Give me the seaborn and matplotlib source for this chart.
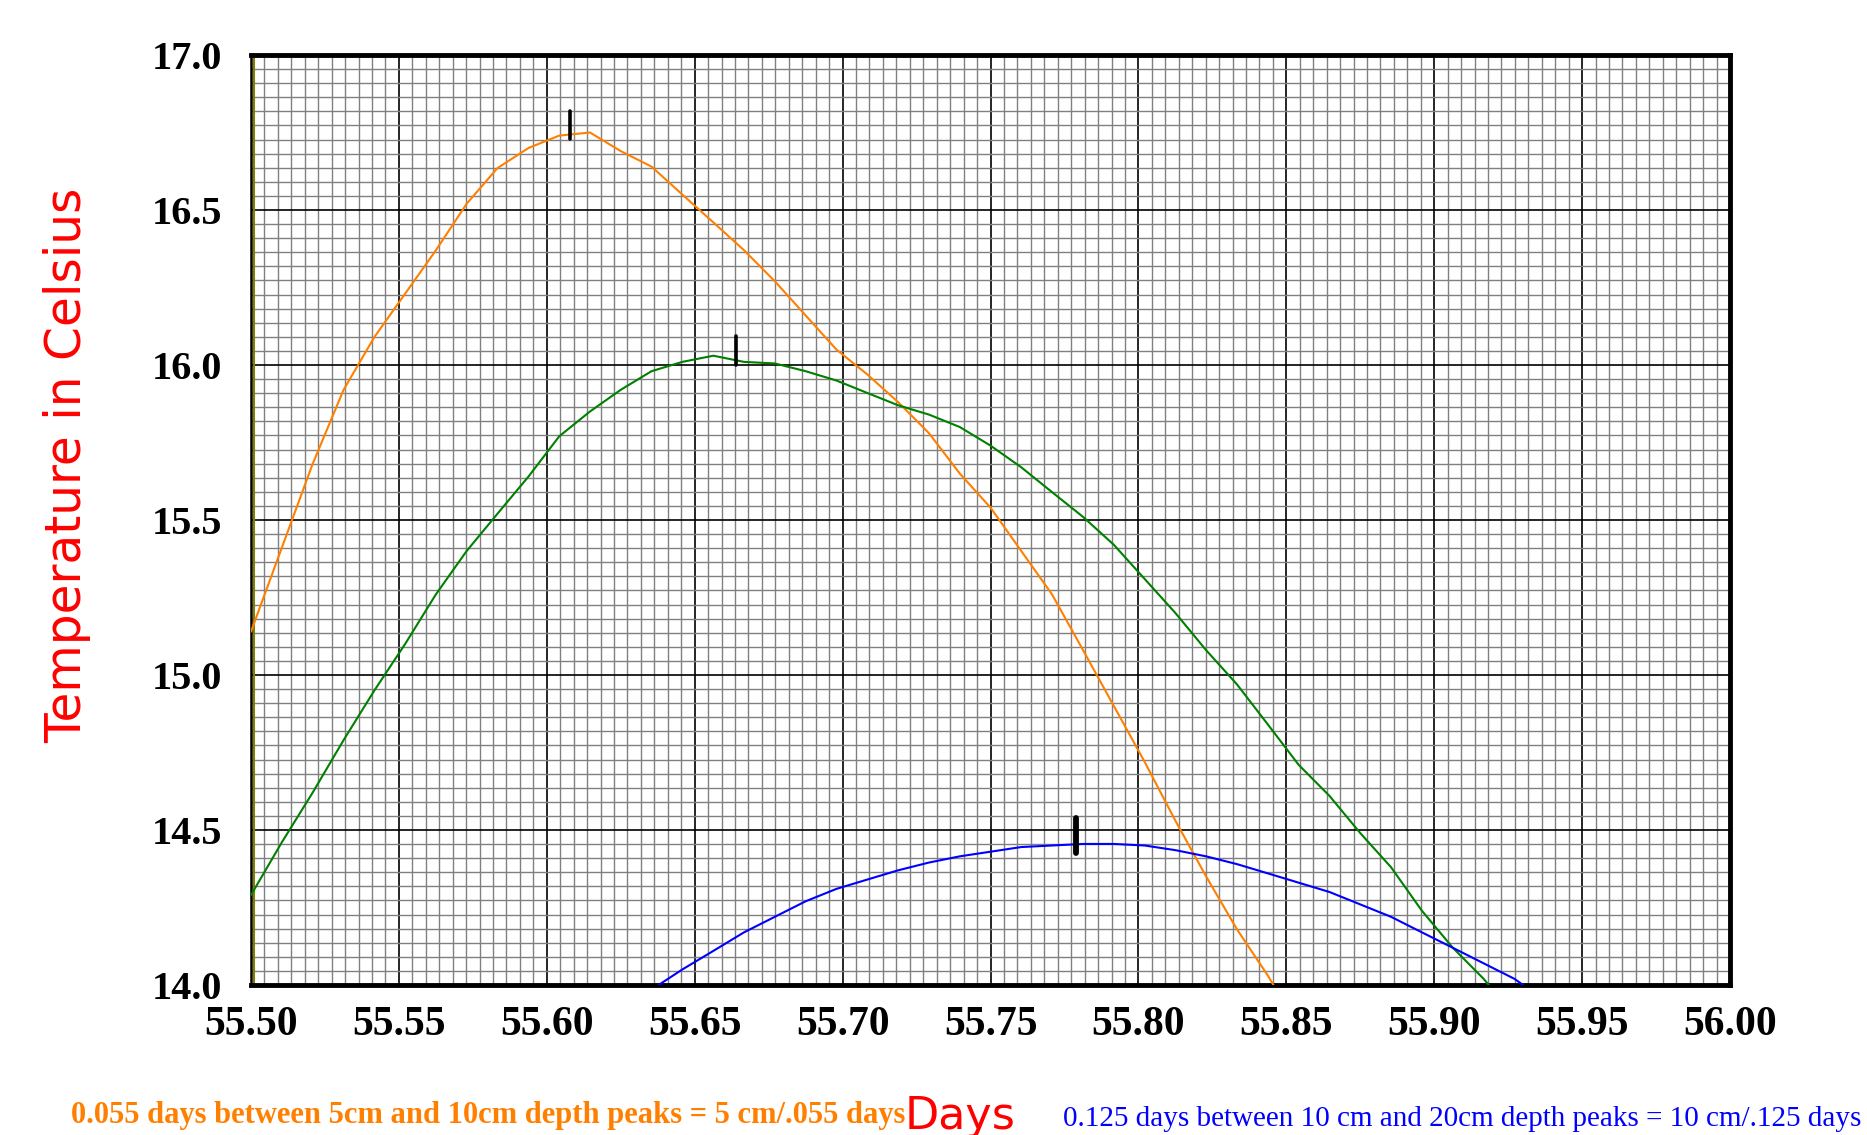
import numpy as np
import pandas as pd
import matplotlib
matplotlib.use("Agg")
import matplotlib.pyplot as plt
from matplotlib.ticker import AutoMinorLocator, FixedLocator
import seaborn as sns

# Sample times (days), one reading every 15 minutes
days = [55.5, 55.5104, 55.5208, 55.5313, 55.5417, 55.5521, 55.5625, 55.5729,
        55.5833, 55.5938, 55.6042, 55.6146, 55.625, 55.6354, 55.6458, 55.6563,
        55.6667, 55.6771, 55.6875, 55.6979, 55.7083, 55.7188, 55.7292, 55.7396,
        55.75, 55.7604, 55.7708, 55.7813, 55.7917, 55.8021, 55.8125, 55.8229,
        55.8333, 55.8438, 55.8542, 55.8646, 55.875, 55.8854, 55.8958, 55.9063,
        55.9167, 55.9271, 55.9375]

# Soil temperature at 5 cm depth
temp_5cm = [15.14, 15.41, 15.68, 15.92, 16.09, 16.23, 16.37, 16.52,
            16.635, 16.70, 16.74, 16.75, 16.69, 16.64, 16.55, 16.46,
            16.37, 16.27, 16.16, 16.05, 15.97, 15.88, 15.78, 15.65,
            15.54, 15.40, 15.26, 15.08, 14.90, 14.72, 14.53, 14.35,
            14.18, 14.03, 13.86, None, None, None, None, None,
            None, None, None]

# Soil temperature at 10 cm depth
temp_10cm = [14.29, 14.46, 14.62, 14.79, 14.95, 15.10, 15.26, 15.40,
             15.52, 15.64, 15.77, 15.85, 15.92, 15.98, 16.01, 16.03,
             16.01, 16.005, 15.98, 15.95, 15.91, 15.87, 15.84, 15.80,
             15.74, 15.67, 15.59, 15.51, 15.42, 15.31, 15.20, 15.08,
             14.97, 14.84, 14.71, 14.61, 14.49, 14.38, 14.24, 14.12,
             14.02, 13.90, None]

# Soil temperature at 20 cm depth
temp_20cm = [None, None, None, None, None, None, None, None,
             None, None, None, None, None, 13.985, 14.05, 14.11,
             14.17, 14.22, 14.27, 14.31, 14.34, 14.37, 14.395, 14.415,
             14.43, 14.445, 14.45, 14.455, 14.455, 14.45, 14.435, 14.415,
             14.39, 14.36, 14.33, 14.30, 14.26, 14.22, 14.17, 14.12,
             14.07, 14.02, 13.95]

# Peak markers: (day, low temp, high temp, width)
peak_days = [55.608, 55.664, 55.779]
peak_low = [16.73, 16.0, 14.426]
peak_high = [16.82, 16.094, 14.539]
peak_width = [2.6, 2.6, 4.2]

x_ticks = [55.50, 55.55, 55.60, 55.65, 55.70, 55.75, 55.80, 55.85, 55.90, 55.95, 56.00]
y_ticks = [14.0, 14.5, 15.0, 15.5, 16.0, 16.5, 17.0]

note_5_10 = "0.055 days between 5cm and 10cm depth peaks = 5 cm/.055 days"
note_10_20 = "0.125 days between 10 cm and 20cm depth peaks = 10 cm/.125 days"

sns.set_style("white")
plt.rcParams["font.family"] = ["Liberation Serif", "DejaVu Serif"]

df = pd.DataFrame({"day": days, "t5": temp_5cm, "t10": temp_10cm, "t20": temp_20cm})
df = df.astype(float)

fig = plt.figure(figsize=(18.67, 11.35), dpi=100)
ax = fig.add_axes([251 / 1867, 1 - 985 / 1135, (1730 - 251) / 1867, (985 - 55) / 1135])

for col, color in [("t5", "#FF8000"), ("t10", "#008000"), ("t20", "#0000FF")]:
    sub = df[["day", col]].dropna()
    sns.lineplot(data=sub, x="day", y=col, ax=ax, color=color, linewidth=1.5,
                 sort=False, estimator=None, zorder=3)

for d, lo, hi, w in zip(peak_days, peak_low, peak_high, peak_width):
    ax.plot([d, d], [lo, hi], color="black", linewidth=w,
            solid_capstyle="round", zorder=4)

ax.set_xlim(55.5, 56.0)
ax.set_ylim(14.0, 17.0)
ax.xaxis.set_major_locator(FixedLocator(x_ticks))
ax.yaxis.set_major_locator(FixedLocator(y_ticks))
ax.set_xticklabels([f"{v:.2f}" for v in x_ticks])
ax.set_yticklabels([f"{v:.1f}" for v in y_ticks])
ax.xaxis.set_minor_locator(AutoMinorLocator(11))
ax.yaxis.set_minor_locator(AutoMinorLocator(11))

ax.set_axisbelow(True)
ax.grid(which="minor", color="#808080", linewidth=1.0)
ax.grid(which="major", color="black", linewidth=1.2)

olive = "#808000"
ax.tick_params(axis="both", which="both", direction="in", color=olive,
               top=False, right=False)
ax.tick_params(axis="y", which="major", length=9.5, width=1.2, pad=21,
               labelsize=29)
ax.tick_params(axis="y", which="minor", length=4.5, width=1.2)
ax.tick_params(axis="x", which="major", length=9, width=1.2, pad=15,
               labelsize=30)
ax.tick_params(axis="x", which="minor", length=4, width=1.2)
for lab in ax.get_xticklabels() + ax.get_yticklabels():
    lab.set_fontweight("bold")
    lab.set_color("black")

for side in ["top", "right", "bottom"]:
    ax.spines[side].set_color("black")
    ax.spines[side].set_linewidth(3.5)
ax.spines["left"].set_color("black")
ax.spines["left"].set_linewidth(1.8)

# olive inner rule along the left edge
ax.plot([0.0018, 0.0018], [0, 1], transform=ax.transAxes, color=olive,
        linewidth=1.5, zorder=2.5, clip_on=False)

ax.set_xlabel("")
ax.set_ylabel("")

fig.text(67 / 1867, 1 - 465 / 1135, "Temperature in Celsius", rotation=90,
         ha="center", va="center", color="#FF0000", fontsize=35,
         family=["DejaVu Sans"])
fig.text(960 / 1867, 1 - 1116 / 1135, "Days", ha="center", va="center",
         color="#FF0000", fontsize=32, family=["DejaVu Sans"])
fig.text(71 / 1867, 1 - 1116 / 1135, note_5_10, ha="left", va="center",
         color="#FF8000", fontsize=22, fontweight="bold")
fig.text(1861 / 1867, 1 - 1119 / 1135, note_10_20, ha="right", va="center",
         color="#0000FF", fontsize=21)

fig.savefig("out.png", dpi=100)
